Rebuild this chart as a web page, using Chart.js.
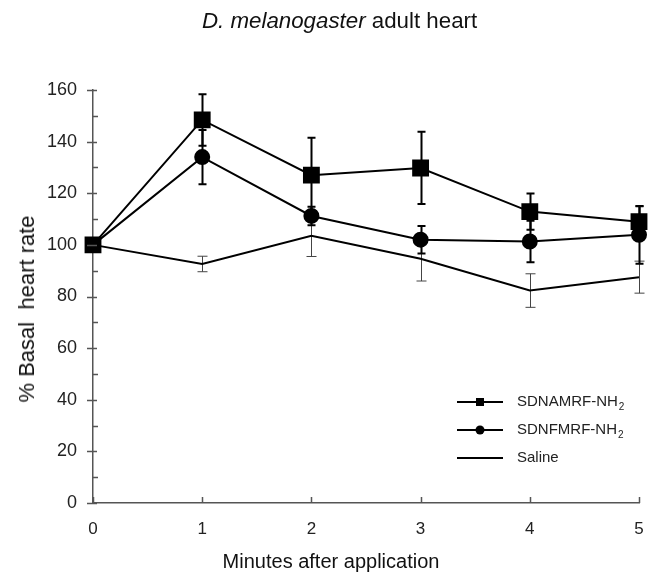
<!DOCTYPE html>
<html>
<head>
<meta charset="utf-8">
<script src="https://cdn.jsdelivr.net/npm/chart.js@4.4.1/dist/chart.umd.min.js"></script>
<style>
    body { margin: 0; background: #fff; }
    #wrap { position: relative; width: 653px; height: 574px; overflow: hidden; }
    .lbl {
        position: absolute; white-space: nowrap; color: #111;
        font-family: "Liberation Sans", Arial, sans-serif;
    }
    #title { left: 202px; top: 8px; font-size: 22.3px; line-height: 26px; }
    #xtitle { left: 331px; top: 561px; font-size: 20px; transform: translate(-50%, -50%); }
    #ytitle { left: 27px; top: 309px; font-size: 22px; transform: translate(-50%, -50%) rotate(-90deg); }
</style>
</head>
<body>
<div id="wrap">
    <canvas id="chart" width="653" height="574"></canvas>
    <div id="title" class="lbl"><i>D. melanogaster</i> adult heart</div>
    <div id="xtitle" class="lbl">Minutes after application</div>
    <div id="ytitle" class="lbl">% Basal&nbsp; heart rate</div>
</div>
<script>
const minutes = [0, 1, 2, 3, 4, 5];
const amrfMean = [100, 148.4, 127, 129.8, 112.9, 109];
const amrfErr = [0, 10, 14.5, 14, 7, 6];
const fmrfMean = [100, 134, 111.2, 102, 101.3, 103.9];
const fmrfErr = [0, 10.5, 3.6, 5.3, 8, 11.2];
const salineMean = [100, 92.6, 103.5, 94.6, 82.3, 87.5];
const salineErr = [0, 3, 8, 8.6, 6.5, 6.2];
const yTicks = [0, 20, 40, 60, 80, 100, 120, 140, 160];
const legendNames = ['SDNAMRF-NH', 'SDNFMRF-NH', 'Saline'];

const font = '"Liberation Sans", Arial, sans-serif';

function toPoints(ys) {
    return minutes.map((x, i) => ({ x: x, y: ys[i] }));
}

// error bars, drawn under the markers
const errorBars = {
    id: 'errorBars',
    beforeDatasetsDraw(chart) {
        const { ctx, scales: { x, y } } = chart;
        const sets = [
            { m: salineMean, e: salineErr, w: 1, c: '#444', cap: 5 },
            { m: fmrfMean, e: fmrfErr, w: 2, c: '#000', cap: 4 },
            { m: amrfMean, e: amrfErr, w: 2, c: '#000', cap: 4 }
        ];
        ctx.save();
        sets.forEach(s => {
            ctx.strokeStyle = s.c;
            ctx.lineWidth = s.w;
            minutes.forEach((m, i) => {
                if (!s.e[i]) return;
                const px = Math.round(x.getPixelForValue(m)) + 0.5;
                const top = y.getPixelForValue(s.m[i] + s.e[i]);
                const bot = y.getPixelForValue(s.m[i] - s.e[i]);
                ctx.beginPath();
                ctx.moveTo(px, top); ctx.lineTo(px, bot);
                ctx.moveTo(px - s.cap, top); ctx.lineTo(px + s.cap, top);
                ctx.moveTo(px - s.cap, bot); ctx.lineTo(px + s.cap, bot);
                ctx.stroke();
            });
        });
        ctx.restore();
    }
};

// axis tick marks: majors cross the y axis, minors inside, x ticks point up
const axisTicks = {
    id: 'axisTicks',
    afterDraw(chart) {
        const { ctx, scales: { x, y }, chartArea } = chart;
        ctx.save();
        ctx.strokeStyle = '#555';
        ctx.lineWidth = 1.5;
        ctx.beginPath();
        for (let v = 0; v <= 160; v += 10) {
            const py = Math.round(y.getPixelForValue(v)) + 0.5;
            if (v % 20 === 0) {
                ctx.moveTo(chartArea.left - 6, py); ctx.lineTo(chartArea.left + 4, py);
            } else {
                ctx.moveTo(chartArea.left, py); ctx.lineTo(chartArea.left + 5, py);
            }
        }
        minutes.forEach(m => {
            const px = Math.round(x.getPixelForValue(m)) + 0.5;
            ctx.moveTo(px, chartArea.bottom); ctx.lineTo(px, chartArea.bottom - 6);
        });
        ctx.moveTo(chartArea.left - 5, chartArea.bottom + 0.5);
        ctx.lineTo(chartArea.left, chartArea.bottom + 0.5);
        ctx.stroke();
        ctx.restore();
    }
};

// legend with line + marker, subscript 2
const lineLegend = {
    id: 'lineLegend',
    afterDraw(chart) {
        const ctx = chart.ctx;
        ctx.save();
        const rows = [402, 430, 458];
        rows.forEach((ry, i) => {
            ctx.strokeStyle = '#000';
            ctx.lineWidth = 2;
            ctx.beginPath();
            ctx.moveTo(457, ry); ctx.lineTo(503, ry);
            ctx.stroke();
            ctx.fillStyle = '#000';
            if (i === 0) ctx.fillRect(476, ry - 4, 8, 8);
            if (i === 1) { ctx.beginPath(); ctx.arc(480, ry, 4.5, 0, Math.PI * 2); ctx.fill(); }
            ctx.fillStyle = '#222';
            ctx.font = '15px ' + font;
            ctx.textBaseline = 'middle';
            ctx.fillText(legendNames[i], 517, ry);
            if (i < 2) {
                const w = ctx.measureText(legendNames[i]).width;
                ctx.font = '10px ' + font;
                ctx.fillText('2', 517 + w + 1, ry + 5);
            }
        });
        ctx.restore();
    }
};

new Chart(document.getElementById('chart'), {
    type: 'line',
    data: {
        datasets: [
            {
                label: 'Saline',
                data: toPoints(salineMean),
                borderColor: '#000', borderWidth: 2,
                pointRadius: 0, clip: false
            },
            {
                label: 'SDNFMRF-NH2',
                data: toPoints(fmrfMean),
                borderColor: '#000', borderWidth: 2,
                pointStyle: 'circle', pointRadius: 7, clip: false,
                pointBackgroundColor: '#000', pointBorderColor: '#000'
            },
            {
                label: 'SDNAMRF-NH2',
                data: toPoints(amrfMean),
                borderColor: '#000', borderWidth: 2,
                pointStyle: 'rect', pointRadius: 10.5, clip: false,
                pointBackgroundColor: '#000', pointBorderColor: '#000'
            }
        ]
    },
    options: {
        responsive: false,
        animation: false,
        layout: { padding: { left: 0, right: 14, top: 90, bottom: 0 } },
        plugins: {
            legend: { display: false },
            tooltip: { enabled: false }
        },
        scales: {
            x: {
                type: 'linear', min: 0, max: 5,
                afterFit: s => { s.height = 71; },
                grid: { display: false },
                border: { color: '#555', width: 1.5 },
                ticks: { stepSize: 1, padding: 8, color: '#222', font: { family: font, size: 17 } }
            },
            y: {
                min: 0, max: 160,
                afterFit: s => { s.width = 93; },
                afterBuildTicks: s => { s.ticks = yTicks.map(v => ({ value: v })); },
                grid: { display: false },
                border: { color: '#555', width: 1.5 },
                ticks: { padding: 8, color: '#222', font: { family: font, size: 18 } }
            }
        }
    },
    plugins: [errorBars, axisTicks, lineLegend]
});
</script>
</body>
</html>
